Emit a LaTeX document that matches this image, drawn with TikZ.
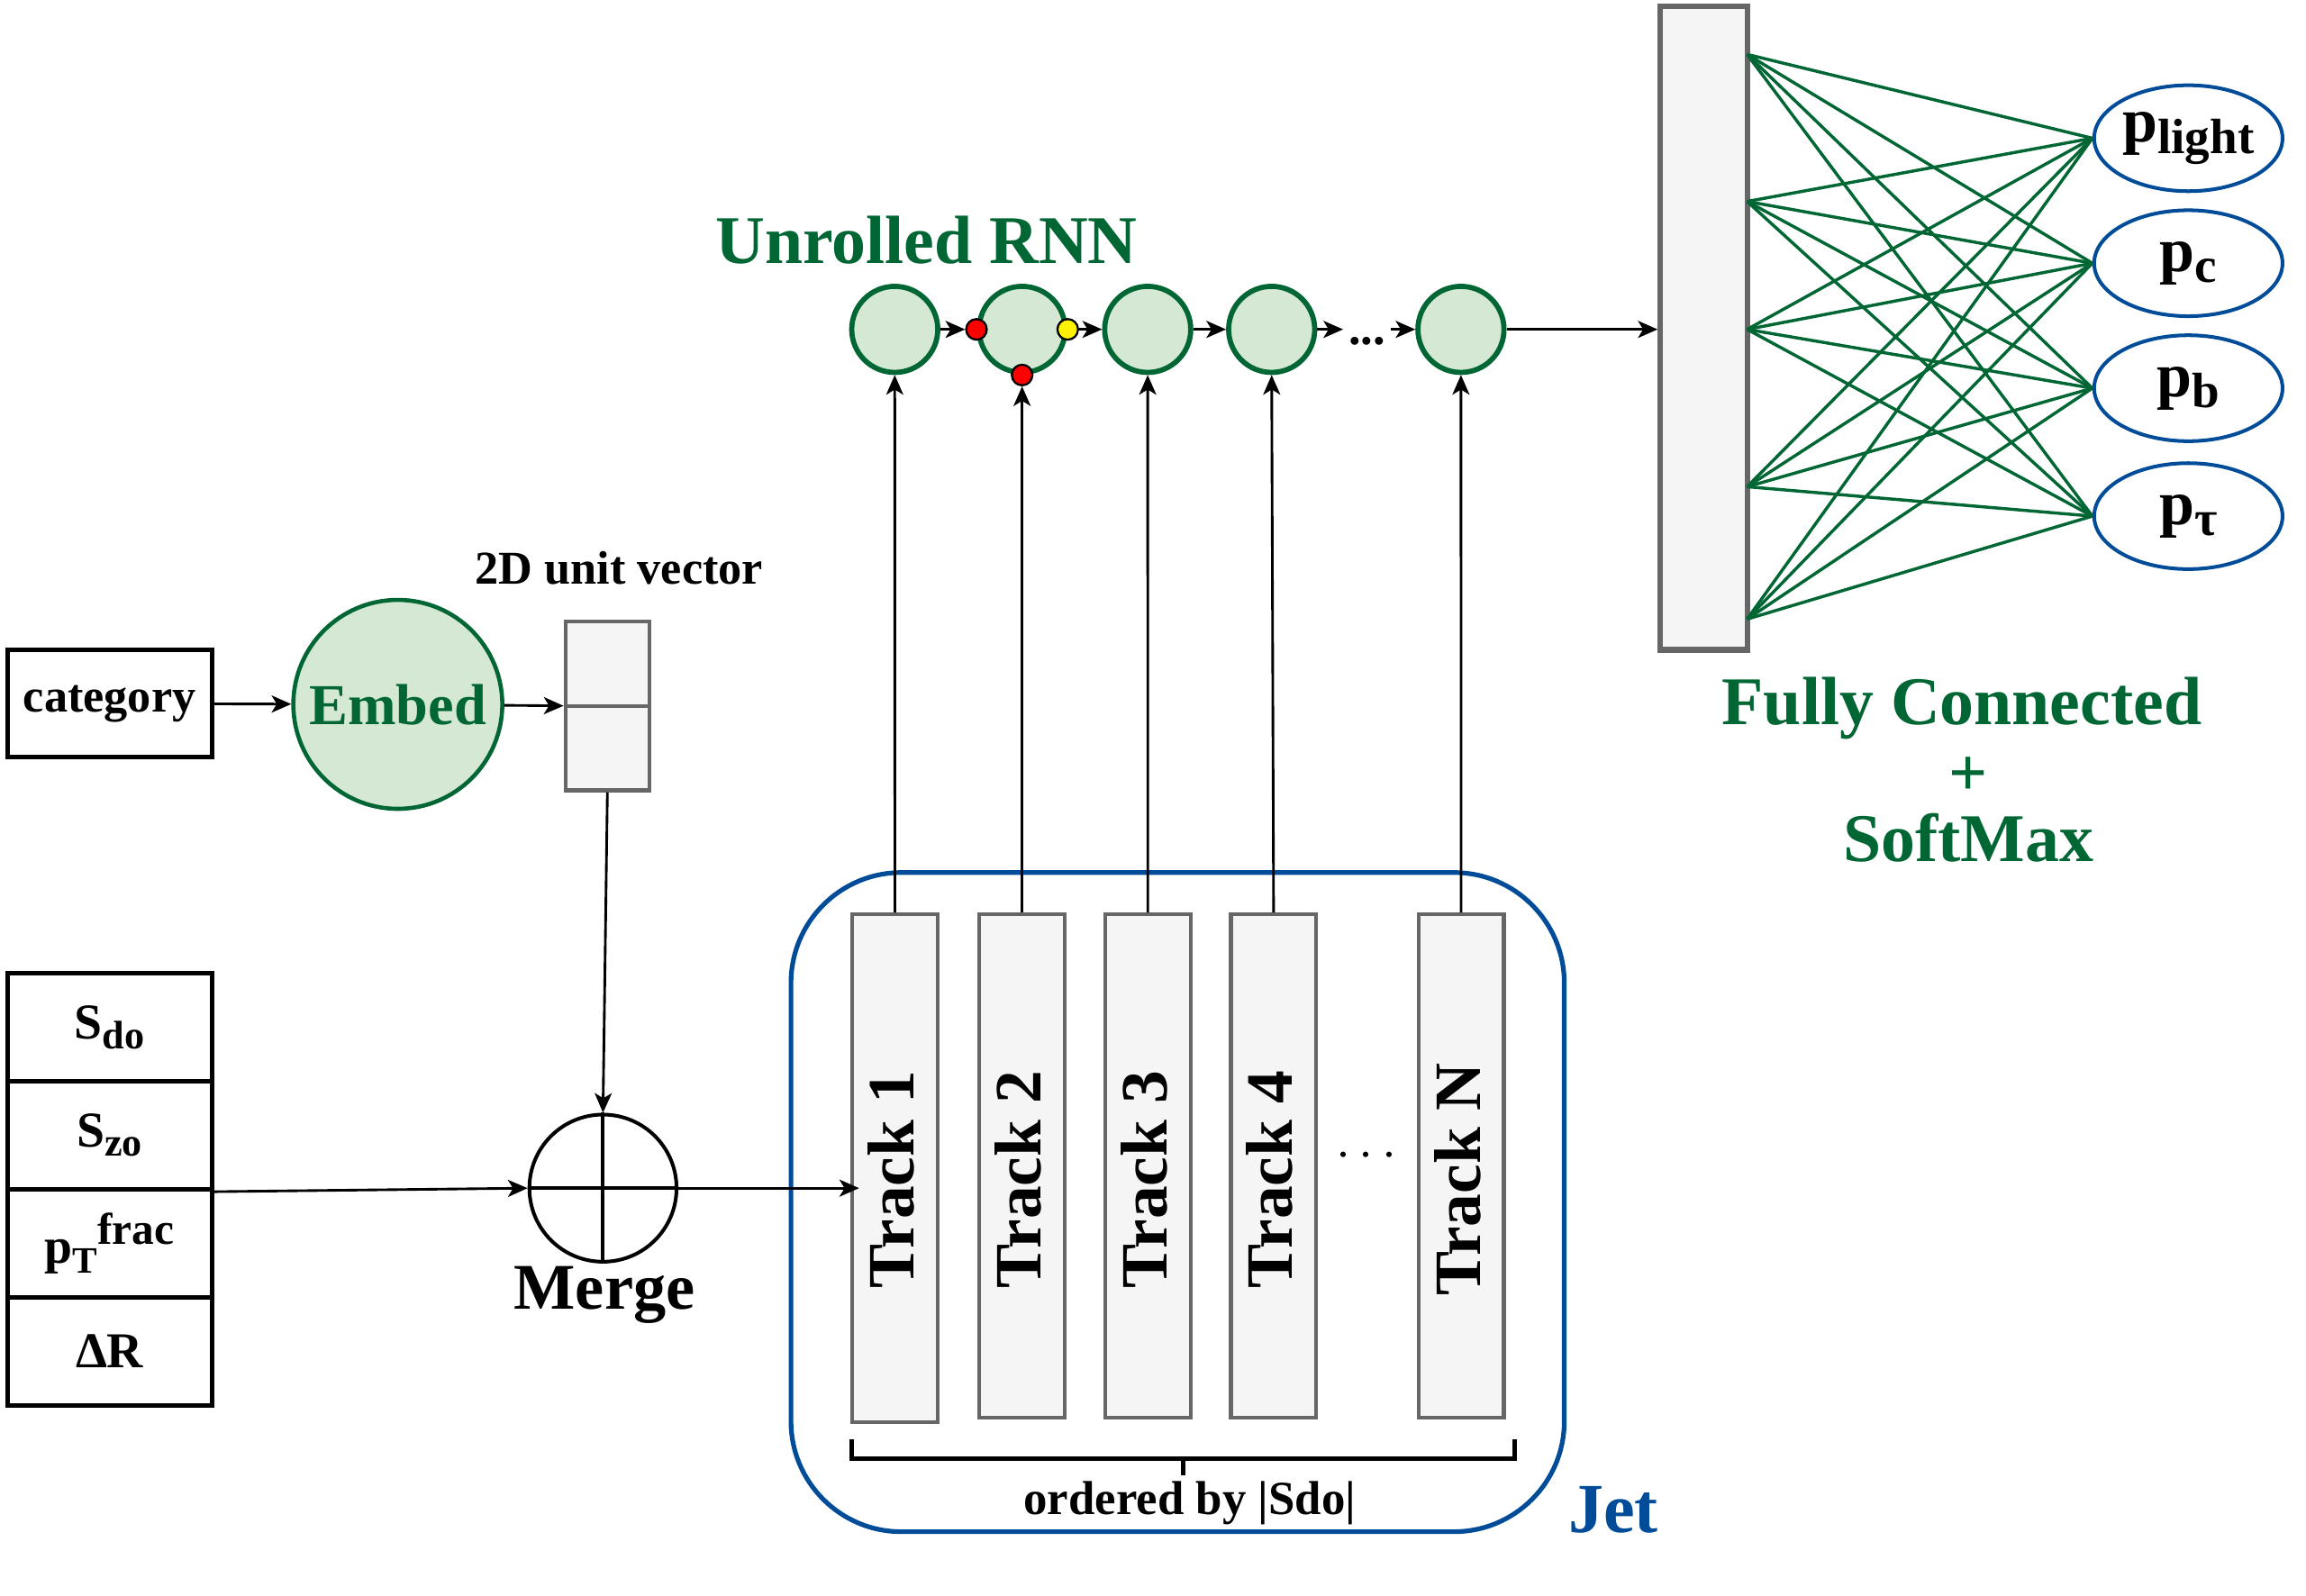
\documentclass[tikz,border=0pt]{standalone}
\usepackage{fontspec}
\setmainfont{Liberation Serif}
\usetikzlibrary{arrows.meta,shapes.geometric,calc}
\definecolor{dgreen}{HTML}{006633}
\definecolor{lgreen}{HTML}{D5E8D4}
\definecolor{dblue}{HTML}{004C99}
\definecolor{lgray}{HTML}{F5F5F5}
\definecolor{mgray}{HTML}{666666}
\newcommand{\fsz}[1]{\fontsize{#1}{#1}\selectfont}
\newcommand{\lsub}[1]{\raisebox{-1.8pt}{\fsz{7.7}#1}}
\newcommand{\osub}[1]{\raisebox{-2.2pt}{\fsz{9.6}#1}}
\begin{document}
\begin{tikzpicture}[x=0.01cm,y=-0.01cm,
  arr/.style={draw=black, line width=0.5pt, -{Stealth[length=3.8pt,width=3.3pt,inset=1pt]}},
  plainbox/.style={draw=black, line width=0.9pt, rectangle, inner sep=0pt, fill=white, minimum width=1.39cm},
  grayblk/.style={draw=mgray, fill=lgray, line width=0.75pt, rectangle, inner sep=0pt},
  trackbox/.style={grayblk, minimum width=0.58cm},
  tracklbl/.style={rotate=90, inner sep=0pt, font=\bfseries\fsz{12.8}},
  rnncell/.style={circle, draw=dgreen, fill=lgreen, line width=1pt, minimum size=0.585cm, inner sep=0pt},
  dotred/.style={circle, draw=black, fill=red, line width=0.4pt, minimum size=0.14cm, inner sep=0pt},
  dotyel/.style={circle, draw=black, fill=yellow, line width=0.4pt, minimum size=0.14cm, inner sep=0pt},
  outell/.style={ellipse, draw=dblue, line width=0.7pt, minimum width=1.28cm, minimum height=0.72cm, inner sep=0pt, font=\bfseries\fsz{12.2}},
  fcline/.style={draw=dgreen, line width=0.6pt},
  greentxt/.style={text=dgreen, inner sep=0pt, font=\bfseries\fsz{13.2}},
  blacktxt/.style={inner sep=0pt, font=\bfseries\fsz{9.1}},
]
\useasboundingbox (0,0) rectangle (1568,1085);

% ---------------- category / embed / unit vector ----------------
\node[plainbox, minimum height=0.73cm, font=\bfseries\fsz{9.1}] (cat) at (74.5,478.5) {category};
\node[circle, draw=dgreen, fill=lgreen, line width=0.8pt, minimum size=1.42cm, inner sep=0pt,
      text=dgreen, font=\bfseries\fsz{11.2}] (emb) at (270.5,479) {Embed};
\node[grayblk, minimum width=0.57cm, minimum height=1.15cm] (uv) at (413,480) {};
\draw[mgray, line width=0.75pt] (uv.west) -- (uv.east);
\node[blacktxt, anchor=base] (uvlbl) at (421,397) {2D unit vector};
\draw[arr] (cat) -- (emb);
\draw[arr] (emb) -- (uv.west);

% ---------------- feature stack ----------------
\node[plainbox, minimum height=0.734cm, font=\bfseries\fsz{9.7}] (sdo) at (74.5,698.7) {S\lsub{do}};
\node[plainbox, minimum height=0.734cm, font=\bfseries\fsz{9.7}] (szo) at (74.5,772.1) {S\lsub{zo}};
\node[plainbox, minimum height=0.734cm, font=\bfseries\fsz{9.7}] (ptf) at (74.5,845.5)
     {p\raisebox{-2pt}{\fsz{7.2}T}\raisebox{3.6pt}{\fsz{8.6}frac}};
\node[plainbox, minimum height=0.734cm, font=\bfseries\fsz{9.7}] (dr) at (74.5,918.9) {ΔR};

% ---------------- merge ----------------
\node[circle, draw=black, line width=0.7pt, minimum size=1.0cm, inner sep=0pt] (mrg) at (410,808) {};
\draw[line width=0.7pt] (mrg.north) -- (mrg.south) (mrg.west) -- (mrg.east);
\node[inner sep=0pt, anchor=base, font=\bfseries\fsz{12.6}] (mrglbl) at (411,890) {Merge};
\draw[arr] (uv.south) -- (mrg.north);
\draw[arr] (szo.south east) -- (mrg.west);

% ---------------- jet + tracks ----------------
\node[draw=dblue, line width=0.9pt, rounded corners=0.75cm, minimum width=5.255cm, minimum height=4.48cm, inner sep=0pt]
     (jet) at (800.75,817.5) {};
\node[text=dblue, inner sep=0pt, anchor=base, font=\bfseries\fsz{13.6}] (jetlbl) at (1097,1042) {Jet};

\node[trackbox, minimum height=3.45cm] (t1) at (608.5,794.5) {};
\node[trackbox, minimum height=3.42cm] (t2) at (695,793) {};
\node[trackbox, minimum height=3.42cm] (t3) at (780.5,793) {};
\node[trackbox, minimum height=3.42cm] (t4) at (866,793) {};
\node[trackbox, minimum height=3.42cm] (tN) at (993.5,793) {};
\node[tracklbl] (t1l) at (606,802) {Track 1};
\node[tracklbl] (t2l) at (692.5,802) {Track 2};
\node[tracklbl] (t3l) at (778,802) {Track 3};
\node[tracklbl] (t4l) at (863.5,802) {Track 4};
\node[tracklbl] (tNl) at (991,802) {Track N};
\node[inner sep=0pt, font=\fsz{10}] (tdots) at (929,786) {$\cdots$};

\draw[arr] (mrg.east) -- ($(mrg.east -| t1.west)+(6,0)$);

% bracket
\coordinate (bl) at (579,979);
\coordinate (br) at (1030,979);
\coordinate (bm) at (804.5,992);
\draw[line width=0.9pt] (bl) -- (579,992) -- (1030,992) -- (br);
\draw[line width=0.9pt] (bm) -- (804.5,1003);
\node[blacktxt, anchor=base, font=\bfseries\fsz{9.2}] (ord) at (809,1030) {ordered by |Sdo|};

% ---------------- RNN ----------------
\node[greentxt] (rnnlbl) at (630,163) {Unrolled RNN};
\node[rnncell] (c1) at (608.4,224) {};
\node[rnncell] (c2) at (695,224) {};
\node[rnncell] (c3) at (780.4,224) {};
\node[rnncell] (c4) at (864.7,224) {};
\node[rnncell] (cN) at (993.4,224) {};
\node[inner sep=0pt, anchor=base, font=\bfseries\fsz{9.5}] (rdots) at (929.5,234) {...};
\node[dotred] (rd1) at (c2.west) {};
\node[dotred] (rd2) at (c2.south) {};
\node[dotyel] (yd) at (c2.east) {};

\draw[arr] (c1) -- (rd1);
\draw[arr] (yd) -- (c3);
\draw[arr] (c3) -- (c4);
\draw[arr] (c4) -- ($(c4 -| rdots.west)+(-3,0)$);
\draw[arr] ($(rdots.east |- cN)+(3,0)$) -- (cN);

\draw[arr] (t1.north) -- (c1.south);
\draw[arr] (t2.north) -- (rd2.south);
\draw[arr] (t3.north) -- (c3.south);
\draw[arr] (t4.north) -- (c4.south);
\draw[arr] (tN.north) -- (cN.south);

% ---------------- fully connected ----------------
\node[draw=mgray, fill=lgray, line width=1.05pt, inner sep=0pt, minimum width=0.59cm, minimum height=4.376cm] (fc) at (1158.5,223) {};
\draw[arr] (cN) -- (cN -| fc.west);

\coordinate (f1) at (1188,37);
\coordinate (f2) at (1188,137);
\coordinate (f3) at (1188,224);
\coordinate (f4) at (1188,331);
\coordinate (f5) at (1188,421);

\node[outell] (o1) at (1488,94) {p\osub{light}};
\node[outell] (o2) at (1488,179) {p\osub{c}};
\node[outell] (o3) at (1488,264) {p\osub{b}};
\node[outell] (o4) at (1488,351) {p\osub{τ}};

\foreach \s in {f1,f2,f3,f4,f5}
  \foreach \t in {o1,o2,o3,o4}
    \draw[fcline] (\s) -- (\t.west);

\node[greentxt, anchor=base] (fc1) at (1334,493) {Fully Connected};
\node[greentxt, anchor=base] (fc2) at (1338.5,541) {+};
\node[greentxt, anchor=base] (fc3) at (1338.5,586) {SoftMax};
\end{tikzpicture}
\end{document}
